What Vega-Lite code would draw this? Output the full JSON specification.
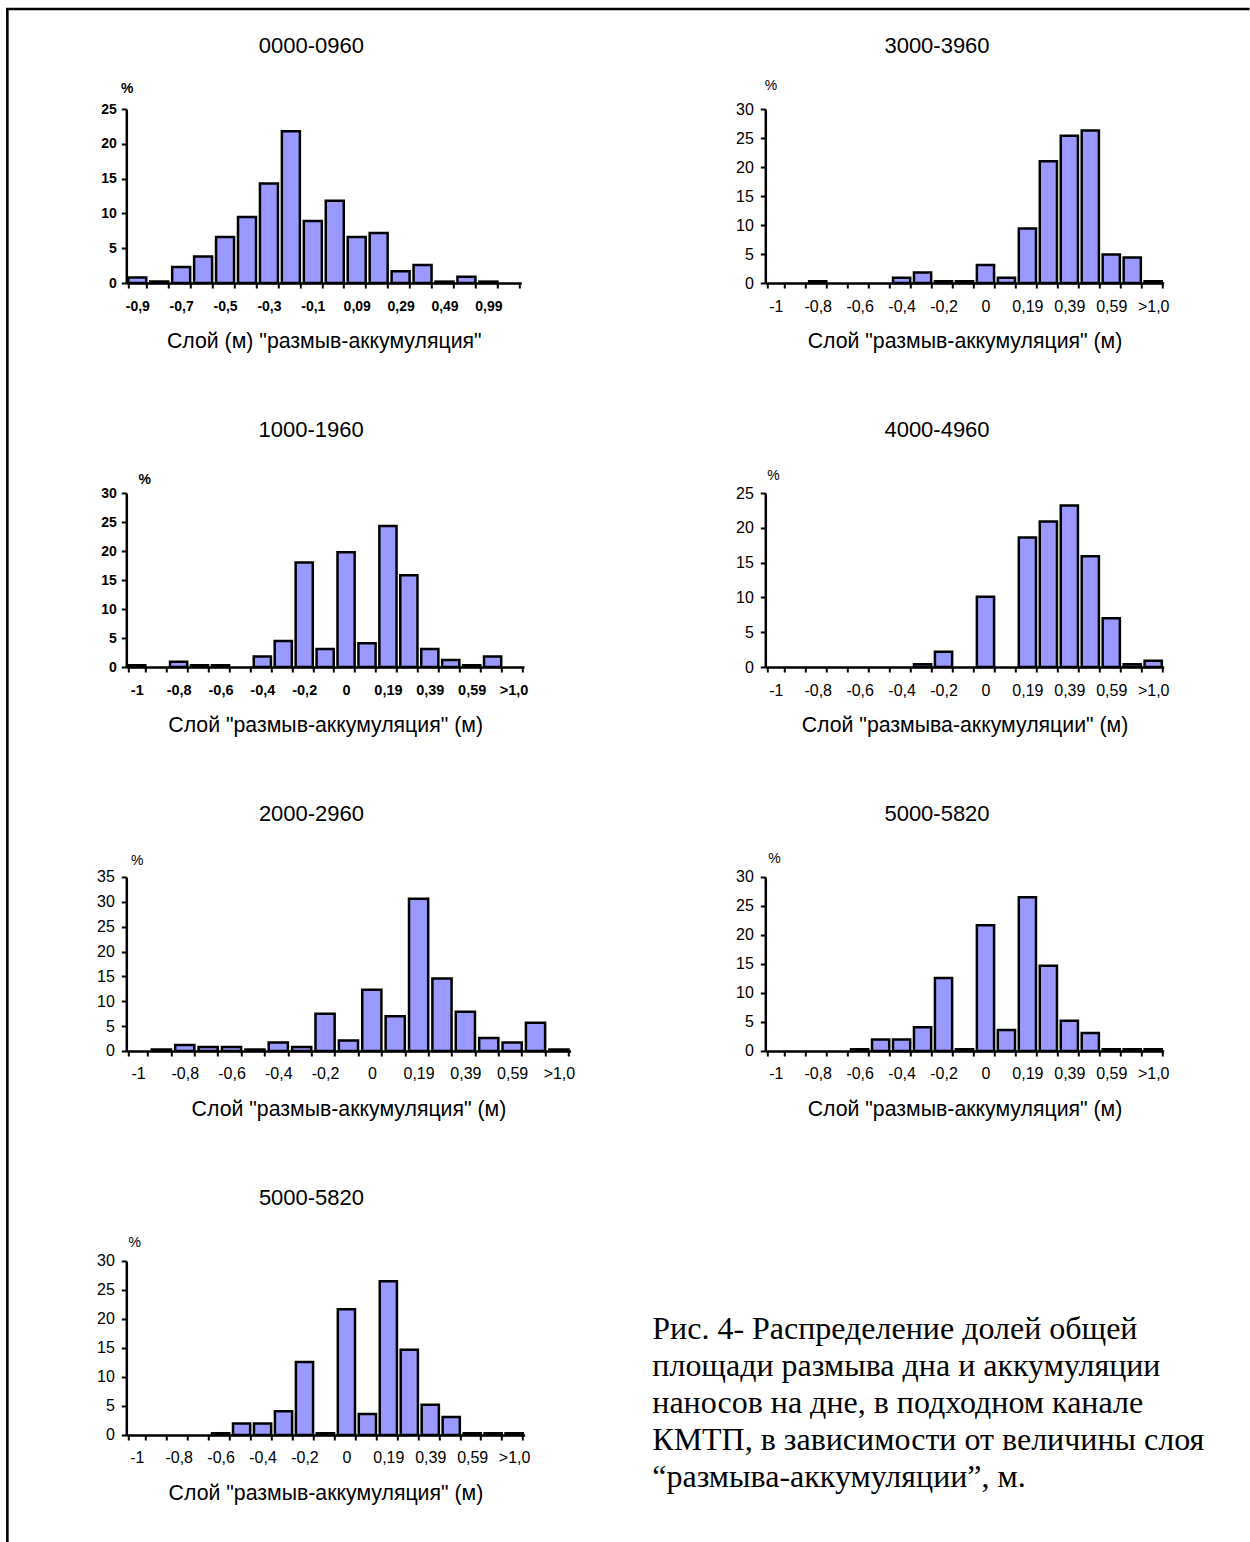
{
  "$schema": "https://vega.github.io/schema/vega-lite/v6.json",
  "padding": {"left": 5.3, "top": 7, "right": 0, "bottom": 0},
  "bounds": "flush",
  "spacing": 0,
  "datasets": {
    "p1": [
      {"i": 1, "bin": "-0,9", "pct": 0.8}, {"i": 2, "bin": "-0,8", "pct": 0.2}, {"i": 3, "bin": "-0,7", "pct": 2.3},
      {"i": 4, "bin": "-0,6", "pct": 3.8}, {"i": 5, "bin": "-0,5", "pct": 6.6}, {"i": 6, "bin": "-0,4", "pct": 9.5},
      {"i": 7, "bin": "-0,3", "pct": 14.3}, {"i": 8, "bin": "-0,2", "pct": 21.8}, {"i": 9, "bin": "-0,1", "pct": 8.9},
      {"i": 10, "bin": "0", "pct": 11.8}, {"i": 11, "bin": "0,09", "pct": 6.6}, {"i": 12, "bin": "0,19", "pct": 7.2},
      {"i": 13, "bin": "0,29", "pct": 1.7}, {"i": 14, "bin": "0,39", "pct": 2.6}, {"i": 15, "bin": "0,49", "pct": 0.2},
      {"i": 16, "bin": "0,59", "pct": 0.9}, {"i": 17, "bin": "0,99", "pct": 0.2}, {"i": 18, "bin": ">1,0", "pct": 0}
    ],
    "p2": [
      {"i": 1, "bin": "-1", "pct": 0}, {"i": 2, "bin": "-0,9", "pct": 0}, {"i": 3, "bin": "-0,8", "pct": 0.3},
      {"i": 4, "bin": "-0,7", "pct": 0}, {"i": 5, "bin": "-0,6", "pct": 0}, {"i": 6, "bin": "-0,5", "pct": 0},
      {"i": 7, "bin": "-0,4", "pct": 0.9}, {"i": 8, "bin": "-0,3", "pct": 1.8}, {"i": 9, "bin": "-0,2", "pct": 0.3},
      {"i": 10, "bin": "-0,1", "pct": 0.3}, {"i": 11, "bin": "0", "pct": 3.1}, {"i": 12, "bin": "0,09", "pct": 0.9},
      {"i": 13, "bin": "0,19", "pct": 9.4}, {"i": 14, "bin": "0,29", "pct": 21.0}, {"i": 15, "bin": "0,39", "pct": 25.4},
      {"i": 16, "bin": "0,49", "pct": 26.3}, {"i": 17, "bin": "0,59", "pct": 4.9}, {"i": 18, "bin": "0,99", "pct": 4.4},
      {"i": 19, "bin": ">1,0", "pct": 0.3}
    ],
    "p3": [
      {"i": 1, "bin": "-1", "pct": 0.3}, {"i": 2, "bin": "-0,9", "pct": 0}, {"i": 3, "bin": "-0,8", "pct": 0.9},
      {"i": 4, "bin": "-0,7", "pct": 0.3}, {"i": 5, "bin": "-0,6", "pct": 0.3}, {"i": 6, "bin": "-0,5", "pct": 0},
      {"i": 7, "bin": "-0,4", "pct": 1.8}, {"i": 8, "bin": "-0,3", "pct": 4.5}, {"i": 9, "bin": "-0,2", "pct": 18.0},
      {"i": 10, "bin": "-0,1", "pct": 3.1}, {"i": 11, "bin": "0", "pct": 19.8}, {"i": 12, "bin": "0,09", "pct": 4.1},
      {"i": 13, "bin": "0,19", "pct": 24.3}, {"i": 14, "bin": "0,29", "pct": 15.8}, {"i": 15, "bin": "0,39", "pct": 3.1},
      {"i": 16, "bin": "0,49", "pct": 1.2}, {"i": 17, "bin": "0,59", "pct": 0.3}, {"i": 18, "bin": "0,99", "pct": 1.8},
      {"i": 19, "bin": ">1,0", "pct": 0}
    ],
    "p4": [
      {"i": 1, "bin": "-1", "pct": 0}, {"i": 2, "bin": "-0,9", "pct": 0}, {"i": 3, "bin": "-0,8", "pct": 0},
      {"i": 4, "bin": "-0,7", "pct": 0}, {"i": 5, "bin": "-0,6", "pct": 0}, {"i": 6, "bin": "-0,5", "pct": 0},
      {"i": 7, "bin": "-0,4", "pct": 0}, {"i": 8, "bin": "-0,3", "pct": 0.4}, {"i": 9, "bin": "-0,2", "pct": 2.2},
      {"i": 10, "bin": "-0,1", "pct": 0}, {"i": 11, "bin": "0", "pct": 10.1}, {"i": 12, "bin": "0,09", "pct": 0},
      {"i": 13, "bin": "0,19", "pct": 18.6}, {"i": 14, "bin": "0,29", "pct": 20.9}, {"i": 15, "bin": "0,39", "pct": 23.2},
      {"i": 16, "bin": "0,49", "pct": 15.9}, {"i": 17, "bin": "0,59", "pct": 7.0}, {"i": 18, "bin": "0,99", "pct": 0.4},
      {"i": 19, "bin": ">1,0", "pct": 0.9}
    ],
    "p5": [
      {"i": 1, "bin": "-1", "pct": 0}, {"i": 2, "bin": "-0,9", "pct": 0.3}, {"i": 3, "bin": "-0,8", "pct": 1.2},
      {"i": 4, "bin": "-0,7", "pct": 0.8}, {"i": 5, "bin": "-0,6", "pct": 0.8}, {"i": 6, "bin": "-0,5", "pct": 0.3},
      {"i": 7, "bin": "-0,4", "pct": 1.7}, {"i": 8, "bin": "-0,3", "pct": 0.8}, {"i": 9, "bin": "-0,2", "pct": 7.5},
      {"i": 10, "bin": "-0,1", "pct": 2.1}, {"i": 11, "bin": "0", "pct": 12.3}, {"i": 12, "bin": "0,09", "pct": 7.0},
      {"i": 13, "bin": "0,19", "pct": 30.6}, {"i": 14, "bin": "0,29", "pct": 14.6}, {"i": 15, "bin": "0,39", "pct": 7.9},
      {"i": 16, "bin": "0,49", "pct": 2.6}, {"i": 17, "bin": "0,59", "pct": 1.7}, {"i": 18, "bin": "0,99", "pct": 5.7},
      {"i": 19, "bin": ">1,0", "pct": 0.3}
    ],
    "p6": [
      {"i": 1, "bin": "-1", "pct": 0}, {"i": 2, "bin": "-0,9", "pct": 0}, {"i": 3, "bin": "-0,8", "pct": 0},
      {"i": 4, "bin": "-0,7", "pct": 0}, {"i": 5, "bin": "-0,6", "pct": 0.3}, {"i": 6, "bin": "-0,5", "pct": 2.0},
      {"i": 7, "bin": "-0,4", "pct": 2.0}, {"i": 8, "bin": "-0,3", "pct": 4.1}, {"i": 9, "bin": "-0,2", "pct": 12.6},
      {"i": 10, "bin": "-0,1", "pct": 0.3}, {"i": 11, "bin": "0", "pct": 21.7}, {"i": 12, "bin": "0,09", "pct": 3.6},
      {"i": 13, "bin": "0,19", "pct": 26.5}, {"i": 14, "bin": "0,29", "pct": 14.7}, {"i": 15, "bin": "0,39", "pct": 5.2},
      {"i": 16, "bin": "0,49", "pct": 3.1}, {"i": 17, "bin": "0,59", "pct": 0.3}, {"i": 18, "bin": "0,99", "pct": 0.3},
      {"i": 19, "bin": ">1,0", "pct": 0.3}
    ],
    "caption": [
      {"caption": ["Рис. 4- Распределение долей общей", "площади размыва дна и аккумуляции", "наносов на дне, в подходном канале", "КМТП, в зависимости от величины слоя", "“размыва-аккумуляции”, м."]}
    ]
  },
  "vconcat": [
    {"width": 1241, "height": 0.1, "data": {"values": []}, "mark": "point", "view": {"stroke": "black", "strokeWidth": 2.5}},
    {
      "bounds": "flush",
      "spacing": 118,
      "hconcat": [
        {"width": 0.1, "height": 1532, "data": {"values": []}, "mark": "point", "view": {"stroke": "black", "strokeWidth": 2.5}},
        {
          "bounds": "flush",
          "spacing": 98,
          "vconcat": [
            {"width": 0.1, "height": 0.1, "data": {"values": []}, "mark": "point"},
            {
              "bounds": "flush",
              "columns": 2,
              "align": "each",
              "spacing": {"row": 210, "column": 194},
              "concat": [
                {
                  "data": {"name": "p1"},
                  "title": {"text": "0000-0960", "frame": "group", "dx": -12.5, "offset": 5.7, "baseline": "alphabetic"},
                  "width": 395, "height": 174,
                  "mark": {"type": "bar"},
                  "encoding": {
                    "x": {"field": "bin", "type": "nominal", "sort": {"field": "i", "op": "min"},
                      "axis": {"title": "Слой (м) \"размыв-аккумуляция\"", "tickBand": "extent", "labelFontSize": 14, "labelFontWeight": "bold", "labelPadding": 11, "titleY": 64.5, "titleBaseline": "alphabetic",
                        "labelExpr": "indexof(['-0,9','-0,7','-0,5','-0,3','-0,1','0,09','0,29','0,49','0,99'], datum.value) >= 0 ? datum.value : ''"}},
                    "y": {"field": "pct", "type": "quantitative", "scale": {"domain": [0, 25], "nice": false},
                      "axis": {"values": [0, 5, 10, 15, 20, 25], "title": "%", "titleX": 0.5, "titleY": -21, "titleFontSize": 14, "titleFontWeight": "bold", "labelFontSize": 14, "labelFontWeight": "bold", "labelPadding": 5}},
                    "strokeOpacity": {"condition": {"test": "datum.pct == 0", "value": 0}, "value": 1}
                  }
                },
                {
                  "data": {"name": "p2"},
                  "title": {"text": "3000-3960", "frame": "group", "dx": -27.5, "offset": 2.7, "baseline": "alphabetic"},
                  "width": 398.4, "height": 174,
                  "mark": {"type": "bar"},
                  "encoding": {
                    "x": {"field": "bin", "type": "nominal", "sort": {"field": "i", "op": "min"},
                      "axis": {"title": "Слой \"размыв-аккумуляция\" (м)", "tickBand": "extent", "labelFontSize": 16, "labelPadding": 10, "titleY": 64.5, "titleBaseline": "alphabetic",
                        "labelExpr": "indexof(['-1','-0,8','-0,6','-0,4','-0,2','0','0,19','0,39','0,59','>1,0'], datum.value) >= 0 ? datum.value : ''"}},
                    "y": {"field": "pct", "type": "quantitative", "scale": {"domain": [0, 30], "nice": false},
                      "axis": {"values": [0, 5, 10, 15, 20, 25, 30], "title": "%", "titleX": 5.2, "titleY": -24, "titleFontSize": 14, "labelFontSize": 16, "labelPadding": 7}},
                    "strokeOpacity": {"condition": {"test": "datum.pct == 0", "value": 0}, "value": 1}
                  }
                },
                {
                  "data": {"name": "p3"},
                  "title": {"text": "1000-1960", "frame": "group", "dx": -14, "offset": 12.7, "baseline": "alphabetic"},
                  "width": 397.7, "height": 174,
                  "mark": {"type": "bar"},
                  "encoding": {
                    "x": {"field": "bin", "type": "nominal", "sort": {"field": "i", "op": "min"},
                      "axis": {"title": "Слой \"размыв-аккумуляция\"  (м)", "tickBand": "extent", "labelFontSize": 14.5, "labelFontWeight": "bold", "labelPadding": 11, "titleY": 64.5, "titleBaseline": "alphabetic",
                        "labelExpr": "indexof(['-1','-0,8','-0,6','-0,4','-0,2','0','0,19','0,39','0,59','>1,0'], datum.value) >= 0 ? datum.value : ''"}},
                    "y": {"field": "pct", "type": "quantitative", "scale": {"domain": [0, 30], "nice": false},
                      "axis": {"values": [0, 5, 10, 15, 20, 25, 30], "title": "%", "titleX": 18, "titleY": -14, "titleFontSize": 14, "titleFontWeight": "bold", "labelFontSize": 14, "labelFontWeight": "bold", "labelPadding": 5}},
                    "strokeOpacity": {"condition": {"test": "datum.pct == 0", "value": 0}, "value": 1}
                  }
                },
                {
                  "data": {"name": "p4"},
                  "title": {"text": "4000-4960", "frame": "group", "dx": -27.5, "offset": 8.7, "baseline": "alphabetic"},
                  "width": 398.4, "height": 174,
                  "mark": {"type": "bar"},
                  "encoding": {
                    "x": {"field": "bin", "type": "nominal", "sort": {"field": "i", "op": "min"},
                      "axis": {"title": "Слой \"размыва-аккумуляции\" (м)", "tickBand": "extent", "labelFontSize": 16, "labelPadding": 10, "titleY": 64.5, "titleBaseline": "alphabetic",
                        "labelExpr": "indexof(['-1','-0,8','-0,6','-0,4','-0,2','0','0,19','0,39','0,59','>1,0'], datum.value) >= 0 ? datum.value : ''"}},
                    "y": {"field": "pct", "type": "quantitative", "scale": {"domain": [0, 25], "nice": false},
                      "axis": {"values": [0, 5, 10, 15, 20, 25], "title": "%", "titleX": 7.7, "titleY": -18, "titleFontSize": 14, "labelFontSize": 16, "labelPadding": 7}},
                    "strokeOpacity": {"condition": {"test": "datum.pct == 0", "value": 0}, "value": 1}
                  }
                },
                {
                  "data": {"name": "p5"},
                  "title": {"text": "2000-2960", "frame": "group", "dx": -37, "offset": 10, "baseline": "alphabetic"},
                  "width": 444.3, "height": 174,
                  "mark": {"type": "bar"},
                  "encoding": {
                    "x": {"field": "bin", "type": "nominal", "sort": {"field": "i", "op": "min"},
                      "axis": {"title": "Слой \"размыв-аккумуляция\" (м)", "tickBand": "extent", "labelFontSize": 16, "labelPadding": 10, "titleY": 64.5, "titleBaseline": "alphabetic",
                        "labelExpr": "indexof(['-1','-0,8','-0,6','-0,4','-0,2','0','0,19','0,39','0,59','>1,0'], datum.value) >= 0 ? datum.value : ''"}},
                    "y": {"field": "pct", "type": "quantitative", "scale": {"domain": [0, 35], "nice": false},
                      "axis": {"values": [0, 5, 10, 15, 20, 25, 30, 35], "title": "%", "titleX": 10.5, "titleY": -16.7, "titleFontSize": 14, "labelFontSize": 16, "labelPadding": 7}},
                    "strokeOpacity": {"condition": {"test": "datum.pct == 0", "value": 0}, "value": 1}
                  }
                },
                {
                  "data": {"name": "p6"},
                  "title": {"text": "5000-5820", "frame": "group", "dx": -27.5, "offset": 8.2, "baseline": "alphabetic"},
                  "width": 398.4, "height": 174,
                  "mark": {"type": "bar"},
                  "encoding": {
                    "x": {"field": "bin", "type": "nominal", "sort": {"field": "i", "op": "min"},
                      "axis": {"title": "Слой \"размыв-аккумуляция\" (м)", "tickBand": "extent", "labelFontSize": 16, "labelPadding": 10, "titleY": 64.5, "titleBaseline": "alphabetic",
                        "labelExpr": "indexof(['-1','-0,8','-0,6','-0,4','-0,2','0','0,19','0,39','0,59','>1,0'], datum.value) >= 0 ? datum.value : ''"}},
                    "y": {"field": "pct", "type": "quantitative", "scale": {"domain": [0, 30], "nice": false},
                      "axis": {"values": [0, 5, 10, 15, 20, 25, 30], "title": "%", "titleX": 8.7, "titleY": -18.5, "titleFontSize": 14, "labelFontSize": 16, "labelPadding": 7}},
                    "strokeOpacity": {"condition": {"test": "datum.pct == 0", "value": 0}, "value": 1}
                  }
                },
                {
                  "data": {"name": "p6"},
                  "title": {"text": "5000-5820", "frame": "group", "dx": -14, "offset": 8.7, "baseline": "alphabetic"},
                  "width": 398.3, "height": 174,
                  "mark": {"type": "bar"},
                  "encoding": {
                    "x": {"field": "bin", "type": "nominal", "sort": {"field": "i", "op": "min"},
                      "axis": {"title": "Слой \"размыв-аккумуляция\" (м)", "tickBand": "extent", "labelFontSize": 16, "labelPadding": 10, "titleY": 64.5, "titleBaseline": "alphabetic",
                        "labelExpr": "indexof(['-1','-0,8','-0,6','-0,4','-0,2','0','0,19','0,39','0,59','>1,0'], datum.value) >= 0 ? datum.value : ''"}},
                    "y": {"field": "pct", "type": "quantitative", "scale": {"domain": [0, 30], "nice": false},
                      "axis": {"values": [0, 5, 10, 15, 20, 25, 30], "title": "%", "titleX": 8, "titleY": -18, "titleFontSize": 14, "labelFontSize": 16, "labelPadding": 7}},
                    "strokeOpacity": {"condition": {"test": "datum.pct == 0", "value": 0}, "value": 1}
                  }
                },
                {
                  "data": {"name": "caption"},
                  "width": 398.4, "height": 174,
                  "mark": {"type": "text", "align": "left", "baseline": "alphabetic", "font": "Liberation Serif", "fontSize": 32, "lineHeight": 37, "color": "black"},
                  "encoding": {
                    "text": {"field": "caption", "type": "nominal"},
                    "x": {"value": -113},
                    "y": {"value": 78.5}
                  }
                }
              ]
            }
          ]
        }
      ]
    }
  ],
  "config": {
    "font": "Liberation Sans",
    "view": {"stroke": null},
    "title": {"font": "Liberation Sans", "fontSize": 22, "fontWeight": "normal", "color": "black", "anchor": "middle"},
    "axis": {
      "domainColor": "black", "domainWidth": 2.5, "tickColor": "black", "tickWidth": 2, "tickSize": 5,
      "labelColor": "black", "titleColor": "black", "grid": false,
      "labelFont": "Liberation Sans", "titleFont": "Liberation Sans", "titleFontWeight": "normal", "titleFontSize": 21.3,
      "labelOverlap": false
    },
    "axisX": {"labelAngle": 0},
    "axisY": {"titleAngle": 0, "titleAlign": "center", "titleBaseline": "middle"},
    "bar": {"fill": "#9999FF", "stroke": "black", "strokeWidth": 2.5},
    "scale": {"bandPaddingInner": 0.18, "bandPaddingOuter": 0.09}
  }
}
